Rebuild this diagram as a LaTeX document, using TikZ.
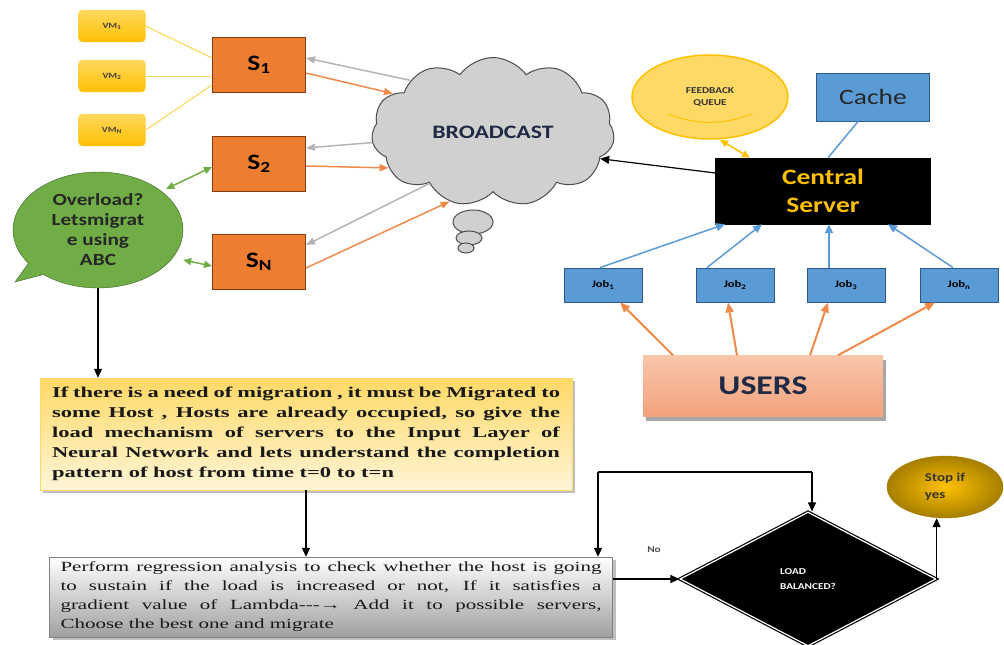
\documentclass[tikz,border=0pt]{standalone}
\usepackage{fontspec}
\setmainfont{Carlito}[FakeStretch=1.25]
\newfontfamily\boxserif{Liberation Serif}[FakeStretch=1.5]
\usetikzlibrary{arrows.meta,shapes.geometric,shapes.symbols,shapes.callouts,shadows}

\definecolor{vmgold}{HTML}{FFC000}
\definecolor{vmlight}{HTML}{FFD75E}
\definecolor{srvorange}{HTML}{ED7D31}
\definecolor{srvedge}{HTML}{843C0C}
\definecolor{abcgreen}{HTML}{70AD47}
\definecolor{abcedge}{HTML}{3B5F22}
\definecolor{cloudgray}{HTML}{D0D0D0}
\definecolor{cloudedge}{HTML}{4D4D4D}
\definecolor{linkgray}{HTML}{B4B4B4}
\definecolor{linkorange}{HTML}{F08A4B}
\definecolor{jobblue}{HTML}{5B9BD5}
\definecolor{jobedge}{HTML}{2E5A8A}
\definecolor{usertop}{HTML}{F8C6AB}
\definecolor{userbot}{HTML}{F2A27D}
\definecolor{fbfill}{HTML}{FFD966}
\definecolor{migtop}{HTML}{FFD966}
\definecolor{migbot}{HTML}{FFF5D6}
\definecolor{stopin}{HTML}{FFC000}
\definecolor{stopout}{HTML}{A67F00}
\definecolor{navytext}{HTML}{1F2A44}

\begin{document}
\begin{tikzpicture}[x=1pt,y=-1pt,
        vmbox/.style={draw=vmlight, rounded corners=4pt, top color=vmlight, bottom color=vmgold, minimum width=67pt, minimum height=32pt, font=\bfseries\fontsize{8}{9}\selectfont, text=black!75},
        server/.style={draw=srvedge, fill=srvorange, line width=1pt, minimum width=93pt, minimum height=55pt, font=\bfseries\fontsize{22}{24}\selectfont},
        jobbox/.style={draw=jobedge, fill=jobblue, line width=0.8pt, minimum width=78pt, minimum height=34pt, font=\bfseries\fontsize{10}{12}\selectfont},
        vmlink/.style={vmgold!70, line width=1pt},
        graylink/.style={-{Triangle[length=9pt,width=7pt]}, linkgray, line width=1.5pt},
        orangelink/.style={-{Triangle[length=9pt,width=7pt]}, linkorange, line width=1.5pt},
        greenlink/.style={{Triangle[length=8pt,width=7pt]}-{Triangle[length=8pt,width=7pt]}, abcgreen, line width=1.5pt},
        bluelink/.style={-{Triangle[length=9pt,width=8pt]}, jobblue, line width=1.5pt},
        userlink/.style={-{Triangle[length=10pt,width=8pt]}, linkorange, line width=2pt},
        flow/.style={-{Triangle[length=9pt,width=8pt]}, black, line width=1.2pt}]
        \useasboundingbox (0,0) rectangle (1004,645);

        \node[vmbox] (vm1) at (112,26) {VM\textsubscript{1}};
        \node[vmbox] (vm2) at (112,76) {VM\textsubscript{2}};
        \node[vmbox] (vmn) at (112,130) {VM\textsubscript{N}};

        \node[server] (s1) at (259,65) {S\textsubscript{1}};
        \node[server] (s2) at (259,164) {S\textsubscript{2}};
        \node[server] (sn) at (259,262) {S\textsubscript{N}};
        \draw[vmlink] (vm1.east) -- ([yshift=7pt]s1.west);
        \draw[vmlink] (vm2.east) -- (vm2.east -| s1.west);
        \draw[vmlink] (vmn.east) -- ([yshift=-20pt]s1.west);

        \node[ellipse callout, callout absolute pointer={(15,282)}, fill=abcgreen, draw=abcedge, minimum width=170pt, minimum height=116pt, align=center, font=\bfseries\fontsize{17}{20}\selectfont, text=black!85] (abc) at (98,230) {Overload?\\Letsmigrat\\e using\\ABC};
        \draw[greenlink] ([xshift=8pt]abc.north east) -- ([yshift=-3pt]s2.west);
        \draw[greenlink] ([yshift=-30pt]abc.east) -- ([yshift=-4pt]sn.west);

        \node[cloud, cloud puffs=11, cloud puff arc=110, aspect=1.6, fill=cloudgray, draw=cloudedge, line width=1pt, minimum width=243pt, minimum height=149pt, font=\bfseries\fontsize{19}{22}\selectfont, text=navytext] (cast) at (493,132) {BROADCAST};
        \draw[fill=cloudgray, draw=cloudedge, line width=1pt] (473,222) ellipse [x radius=20pt, y radius=12pt];
        \draw[fill=cloudgray, draw=cloudedge, line width=1pt] (469,238) ellipse [x radius=13pt, y radius=7pt];
        \draw[fill=cloudgray, draw=cloudedge, line width=1pt] (466,248) ellipse [x radius=8pt, y radius=5pt];
        \draw[graylink] (cast.148) -- ([yshift=7pt]s1.east);
        \draw[orangelink] ([yshift=-8pt]s1.east) -- (cast.159);
        \draw[graylink] (cast.185) -- ([yshift=16pt]s2.east);
        \draw[orangelink] ([yshift=-2pt]s2.east) -- (cast.199);
        \draw[graylink] (cast.219) -- ([yshift=17pt]sn.east);
        \draw[orangelink] ([yshift=-6pt]sn.east) -- (cast.238);

        \node[draw=black, fill=black, minimum width=215pt, minimum height=66pt, align=center, text=vmgold, font=\bfseries\fontsize{22}{28}\selectfont] (central) at (823,191) {Central\\Server};
        \draw[flow] ([yshift=18pt]central.west) -- (cast.-14);

        \node[draw=jobedge, fill=jobblue, line width=1pt, minimum width=113pt, minimum height=48pt, font=\fontsize{22}{24}\selectfont, text=black!85] (cache) at (873,97) {Cache};
        \draw[jobblue, line width=1.5pt] ([xshift=-15pt]cache.south) -- ([xshift=5pt]central.north);

        \node[ellipse, draw=vmgold, fill=fbfill, line width=1.5pt, minimum width=156pt, minimum height=84pt, align=center, font=\bfseries\fontsize{9}{12}\selectfont, text=black!80] (queue) at (710,97) {FEEDBACK\\QUEUE};
        \draw[vmgold, line width=1pt] ([shift={(-42pt,-17pt)}]queue.center) to[bend right=20] ([shift={(42pt,-17pt)}]queue.center);
        \draw[{Triangle[length=8pt,width=7pt]}-{Triangle[length=8pt,width=7pt]}, vmgold, line width=1.5pt] ([xshift=10pt]queue.south) -- ([xshift=-73pt]central.north);

        \node[jobbox] (job1) at (603,285) {Job\textsubscript{1}};
        \node[jobbox] (job2) at (735,285) {Job\textsubscript{2}};
        \node[jobbox] (job3) at (846,285) {Job\textsubscript{3}};
        \node[jobbox] (jobn) at (959,285) {Job\textsubscript{n}};
        \draw[bluelink] ([xshift=-3pt]job1.north) -- ([xshift=-98pt]central.south);
        \draw[bluelink] ([xshift=-28pt]job2.north) -- ([xshift=-61pt]central.south);
        \draw[bluelink] ([xshift=-17pt]job3.north) -- ([xshift=6pt]central.south);
        \draw[bluelink] ([xshift=-6pt]jobn.north) -- ([xshift=65pt]central.south);

        \node[top color=usertop, bottom color=userbot, minimum width=240pt, minimum height=61pt, drop shadow={shadow xshift=3pt, shadow yshift=-4pt, fill=gray!70, opacity=1}, font=\bfseries\fontsize{27}{30}\selectfont, text=navytext] (users) at (763,386) {USERS};
        \draw[userlink] ([xshift=-90pt]users.north) -- ([xshift=17pt]job1.south);
        \draw[userlink] ([xshift=-26pt]users.north) -- ([xshift=-7pt]job2.south);
        \draw[userlink] ([xshift=47pt]users.north) -- ([xshift=-18pt]job3.south);
        \draw[userlink] ([xshift=75pt]users.north) -- ([xshift=-24pt]jobn.south);

        \node[top color=migtop, bottom color=migbot, draw=migtop, minimum width=532pt, minimum height=112pt, text width=508pt, inner xsep=12pt, inner ysep=6pt, align=justify, drop shadow={shadow xshift=3pt, shadow yshift=-3pt, fill=gray!50, opacity=1}, font=\boxserif\bfseries\fontsize{15}{20}\selectfont, text=black!90] (mig) at (306,434) {If there is a need of migration , it must be Migrated to\linebreak some Host , Hosts are already occupied, so give the\linebreak load mechanism of servers to the Input Layer of\linebreak Neural Network and lets understand the completion\linebreak pattern of host from time t=0 to t=n};
        \draw[flow] (abc.south) -- (abc.south |- mig.north);

        \node[top color=white, bottom color=gray!75, draw=gray, minimum width=563pt, minimum height=80pt, text width=541pt, inner xsep=11pt, inner ysep=3pt, align=justify, drop shadow={shadow xshift=3pt, shadow yshift=-3pt, fill=gray!50, opacity=1}, font=\boxserif\fontsize{14}{19}\selectfont, text=black!90] (regress) at (331,597) {Perform regression analysis to check whether the host is going\linebreak to sustain if the load is increased or not, If it satisfies a\linebreak gradient value of Lambda-{}-{}-→ Add it to possible servers,\linebreak Choose the best one and migrate};
        \draw[flow] (mig.south) -- (mig.south |- regress.north);

        \node[diamond, fill=black, draw=black, double=white, double distance=1.2pt, line width=1.2pt, minimum width=256pt, minimum height=134pt, align=left, text=white, font=\bfseries\fontsize{9}{15}\selectfont] (load) at (808,579) {LOAD\\BALANCED?};
        \draw[flow] (regress.east |- load.west) -- (load.west);
        \node[font=\bfseries\fontsize{9}{10}\selectfont, text=black!70] (no) at (654,550) {No};
        \coordinate (loopl) at (598,472);
        \coordinate (loopr) at (812,472);
        \draw[flow] (loopl) -- (loopl |- regress.north);
        \draw[black, line width=1.2pt] (loopl) -- (loopr);
        \draw[flow] (loopr) -- (loopr |- load.north);

        \node[ellipse, inner color=stopin, outer color=stopout, draw=stopout, minimum width=116pt, minimum height=62pt, align=left, font=\bfseries\fontsize{12}{17}\selectfont, text=black!80] (stop) at (945,487) {Stop if\\yes};
        \draw[flow] (load.east) -- (load.east |- stop.south);
\end{tikzpicture}
\end{document}
